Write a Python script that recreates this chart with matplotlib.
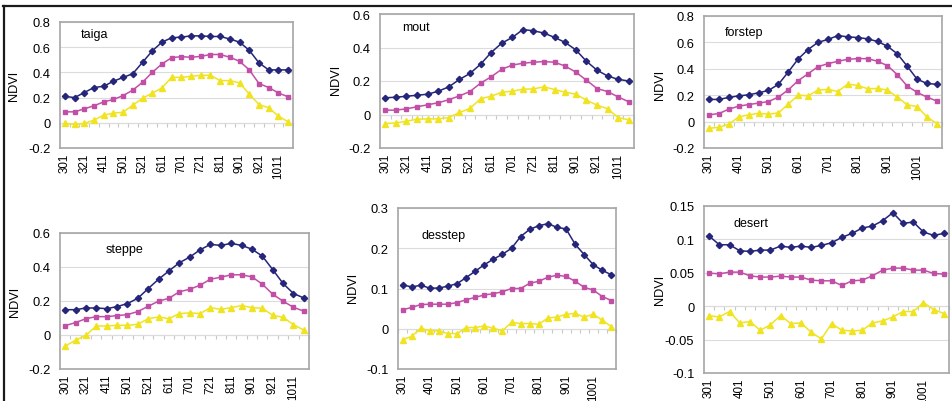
import matplotlib
matplotlib.use("Agg")
import matplotlib.pyplot as plt
from matplotlib.lines import Line2D
import numpy as np

plt.rcParams['font.family'] = ['Liberation Sans', 'DejaVu Sans']

dates = ["301", "311", "321", "401", "411", "421", "501", "511", "521", "601", "611", "621",
         "701", "711", "721", "801", "811", "821", "901", "911", "921", "1001", "1011", "1021"]

taiga_hi = [0.21, 0.20, 0.24, 0.28, 0.29, 0.33, 0.36, 0.39, 0.48, 0.57, 0.64, 0.675, 0.68, 0.69, 0.69, 0.685, 0.685, 0.665, 0.64, 0.575, 0.475, 0.42, 0.42, 0.42]
taiga_mid = [0.087, 0.087, 0.111, 0.135, 0.166, 0.185, 0.216, 0.259, 0.322, 0.40, 0.467, 0.517, 0.525, 0.52, 0.527, 0.542, 0.542, 0.52, 0.488, 0.42, 0.311, 0.28, 0.237, 0.206]
taiga_lo = [-0.005, -0.013, -0.005, 0.021, 0.061, 0.077, 0.084, 0.14, 0.195, 0.235, 0.277, 0.361, 0.361, 0.369, 0.377, 0.377, 0.335, 0.335, 0.317, 0.227, 0.145, 0.119, 0.053, 0.008]

mout_hi = [0.10, 0.103, 0.109, 0.115, 0.121, 0.139, 0.165, 0.209, 0.245, 0.30, 0.37, 0.426, 0.46, 0.507, 0.50, 0.486, 0.46, 0.43, 0.386, 0.318, 0.265, 0.23, 0.21, 0.20]
mout_mid = [0.026, 0.026, 0.034, 0.046, 0.058, 0.07, 0.088, 0.111, 0.137, 0.187, 0.225, 0.27, 0.295, 0.306, 0.312, 0.316, 0.312, 0.289, 0.253, 0.205, 0.155, 0.137, 0.105, 0.076]
mout_lo = [-0.054, -0.05, -0.04, -0.028, -0.026, -0.026, -0.018, 0.012, 0.036, 0.094, 0.109, 0.133, 0.139, 0.151, 0.153, 0.165, 0.149, 0.133, 0.121, 0.086, 0.056, 0.034, -0.018, -0.032]

forstep_hi = [0.168, 0.168, 0.183, 0.195, 0.203, 0.218, 0.236, 0.282, 0.376, 0.475, 0.546, 0.601, 0.622, 0.652, 0.642, 0.637, 0.627, 0.607, 0.571, 0.513, 0.419, 0.32, 0.289, 0.282]
forstep_mid = [0.051, 0.061, 0.094, 0.117, 0.129, 0.14, 0.152, 0.185, 0.241, 0.31, 0.363, 0.416, 0.439, 0.457, 0.472, 0.477, 0.477, 0.457, 0.424, 0.355, 0.269, 0.221, 0.185, 0.155]
forstep_lo = [-0.051, -0.043, -0.02, 0.036, 0.051, 0.063, 0.056, 0.066, 0.132, 0.201, 0.195, 0.239, 0.244, 0.228, 0.284, 0.274, 0.249, 0.251, 0.239, 0.185, 0.127, 0.114, 0.033, -0.015]

steppe_hi = [0.149, 0.149, 0.159, 0.159, 0.155, 0.167, 0.185, 0.216, 0.273, 0.328, 0.377, 0.425, 0.458, 0.501, 0.533, 0.527, 0.539, 0.527, 0.505, 0.464, 0.385, 0.303, 0.244, 0.218]
steppe_mid = [0.055, 0.073, 0.096, 0.108, 0.108, 0.114, 0.12, 0.138, 0.169, 0.199, 0.216, 0.254, 0.269, 0.293, 0.328, 0.34, 0.354, 0.354, 0.342, 0.299, 0.24, 0.199, 0.163, 0.14]
steppe_lo = [-0.065, -0.031, -0.002, 0.053, 0.053, 0.057, 0.057, 0.063, 0.096, 0.106, 0.096, 0.126, 0.13, 0.126, 0.161, 0.151, 0.161, 0.173, 0.161, 0.157, 0.116, 0.104, 0.061, 0.029]

desstep_hi = [0.109, 0.104, 0.108, 0.101, 0.101, 0.106, 0.112, 0.127, 0.143, 0.159, 0.173, 0.185, 0.20, 0.229, 0.247, 0.256, 0.261, 0.252, 0.248, 0.21, 0.184, 0.159, 0.145, 0.134]
desstep_mid = [0.047, 0.053, 0.06, 0.061, 0.061, 0.061, 0.065, 0.072, 0.078, 0.084, 0.087, 0.092, 0.10, 0.10, 0.113, 0.118, 0.128, 0.133, 0.13, 0.118, 0.103, 0.096, 0.08, 0.07]
desstep_lo = [-0.027, -0.019, 0.001, -0.005, -0.005, -0.012, -0.012, 0.003, 0.003, 0.007, 0.001, -0.005, 0.016, 0.013, 0.013, 0.011, 0.027, 0.029, 0.036, 0.038, 0.029, 0.036, 0.021, 0.005]

desert_hi = [0.105, 0.092, 0.092, 0.083, 0.082, 0.084, 0.084, 0.09, 0.088, 0.09, 0.088, 0.091, 0.095, 0.103, 0.109, 0.117, 0.12, 0.128, 0.14, 0.124, 0.126, 0.111, 0.106, 0.109]
desert_mid = [0.0495, 0.0485, 0.051, 0.051, 0.0455, 0.0436, 0.0436, 0.045, 0.0436, 0.0436, 0.039, 0.038, 0.038, 0.031, 0.038, 0.039, 0.0455, 0.054, 0.057, 0.057, 0.054, 0.054, 0.049, 0.048]
desert_lo = [-0.0144, -0.016, -0.008, -0.025, -0.023, -0.036, -0.028, -0.014, -0.026, -0.025, -0.039, -0.049, -0.026, -0.036, -0.037, -0.036, -0.025, -0.022, -0.016, -0.008, -0.008, 0.0054, -0.005, -0.011]

W, H = 953, 402
fig = plt.figure(figsize=(W / 100, H / 100), dpi=100)

C_HI, C_MID, C_LO = "#25257a", "#c24fa6", "#f0e422"

# name, data, axes box (px: left, right, top, bottom), ylim, yticks, label step, title pos, ylabel px pos
panels = [
    ("taiga", (taiga_hi, taiga_mid, taiga_lo), (60, 293, 23, 149), (-0.2, 0.8), [-0.2, 0, 0.2, 0.4, 0.6, 0.8], 2, (0.09, 0.905), (14, 86)),
    ("mout", (mout_hi, mout_mid, mout_lo), (380, 634, 15, 149), (-0.2, 0.6), [-0.2, 0, 0.2, 0.4, 0.6], 2, (0.087, 0.90), (336, 80)),
    ("forstep", (forstep_hi, forstep_mid, forstep_lo), (704, 942, 17, 149), (-0.2, 0.8), [-0.2, 0, 0.2, 0.4, 0.6, 0.8], 3, (0.088, 0.88), (660, 85)),
    ("steppe", (steppe_hi, steppe_mid, steppe_lo), (60, 309, 234, 370), (-0.2, 0.6), [-0.2, 0, 0.2, 0.4, 0.6], 2, (0.185, 0.88), (15, 302)),
    ("desstep", (desstep_hi, desstep_mid, desstep_lo), (398, 616, 209, 370), (-0.1, 0.3), [-0.1, 0, 0.1, 0.2, 0.3], 3, (0.11, 0.83), (353, 288)),
    ("desert", (desert_hi, desert_mid, desert_lo), (704, 949, 207, 374), (-0.1, 0.15), [-0.1, -0.05, 0, 0.05, 0.1, 0.15], 3, (0.122, 0.90), (660, 290)),
]

FRAME = "#a6a6a6"
x = np.arange(len(dates))

def fmt(v):
    s = ("%.2f" % v).rstrip("0").rstrip(".")
    if s in ("-0", ""):
        s = "0"
    return s

for name, (hi, mid, lo), (l, r, t, b), ylim, yticks, step, tpos, lpos in panels:
    ax = fig.add_axes([l / W, 1 - b / H, (r - l) / W, (b - t) / H])
    ax.plot(x, hi, color=C_HI, lw=1.1, marker="D", ms=3.2, mec=C_HI, mfc=C_HI)
    ax.plot(x, mid, color=C_MID, lw=1.1, marker="s", ms=3.4, mec=C_MID, mfc=C_MID)
    ax.plot(x, lo, color=C_LO, lw=1.1, marker="^", ms=4.0, mec=C_LO, mfc=C_LO)
    ax.set_xlim(-0.5, len(dates) - 0.5)
    ax.set_ylim(*ylim)
    ax.set_yticks(yticks)
    ax.set_yticklabels([fmt(v) for v in yticks], fontsize=9.3)
    ax.set_xticks(x[::step])
    ax.set_xticklabels(dates[::step], rotation=90, fontsize=8.4)
    ax.tick_params(axis="both", length=0)
    ax.tick_params(axis="y", pad=7)
    ax.tick_params(axis="x", pad=3.5)
    ax.grid(axis="y", color="#dcdcdc", lw=0.8)
    ax.set_axisbelow(True)
    for sp in ax.spines.values():
        sp.set_color(FRAME)
        sp.set_linewidth(1.2)
    # category axis crossing at zero with tick marks between categories
    sec = ax.secondary_xaxis(0, transform=ax.transData)
    sec.set_xticks(np.arange(-0.5, len(dates), 1.0))
    sec.tick_params(axis="x", length=3, width=0.8, color="#c8c8c8", labelbottom=False)
    sec.spines["bottom"].set_color("#d0d0d0")
    sec.spines["bottom"].set_linewidth(0.8)
    ax.text(tpos[0], tpos[1], name, transform=ax.transAxes, fontsize=9, ha="left", va="center")
    fig.text(lpos[0] / W, 1 - lpos[1] / H, "NDVI", rotation=90, ha="center", va="center", fontsize=9.2)

# outer black border lines (top and left)
fig.add_artist(Line2D([3 / W, 1.0], [1 - 7 / H, 1 - 7 / H], color="#1a1a1a", lw=1.6, transform=fig.transFigure))
fig.add_artist(Line2D([4 / W, 4 / W], [1 - 7 / H, 0.0], color="#1a1a1a", lw=1.6, transform=fig.transFigure))

fig.savefig("out.png", dpi=100)
